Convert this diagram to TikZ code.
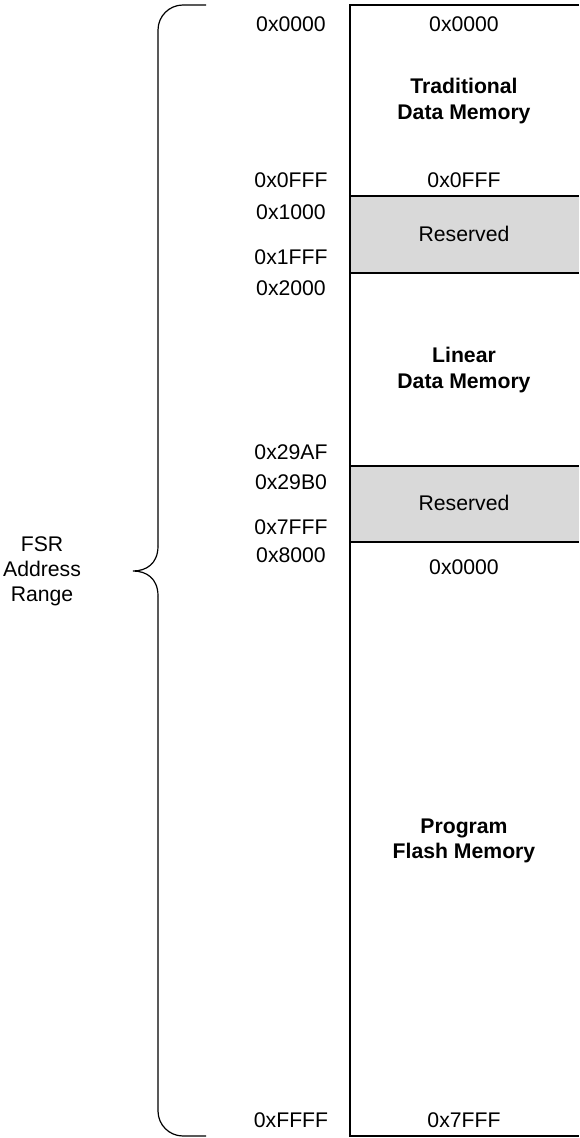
\documentclass[tikz,border=0pt]{standalone}
\usepackage{fontspec}
\setmainfont{Liberation Sans}
\definecolor{resgray}{RGB}{217,217,217}

\begin{document}
\begin{tikzpicture}[x=0.5pt, y=-0.5pt, line width=0.6pt,
  addr/.style={inner sep=0pt, font=\fontsize{10.6}{12.6}\selectfont},
  blk/.style={inner sep=0pt, align=center, font=\fontsize{10.6}{12.6}\selectfont\bfseries}]
\useasboundingbox (0,0) rectangle (579,1138);

\fill[resgray] (350,196) rectangle (579,273);
\fill[resgray] (350,466) rectangle (579,542);

\draw (579,5) -- (350,5) -- (350,1136) -- (579,1136);
\draw (350,196) -- (579,196);
\draw (350,273) -- (579,273);
\draw (350,466) -- (579,466);
\draw (350,542) -- (579,542);

\draw[rounded corners=12.5pt] (206,5) -| (158,546);
\draw (158,546) .. controls (158,564) and (146,571) .. (133,571)
                .. controls (146,571) and (158,578) .. (158,596);
\draw[rounded corners=12.5pt] (158,596) |- (206,1136);

\node[addr] (l0000) at (291,24) {0x0000};
\node[addr] (l0FFF) at (291,180) {0x0FFF};
\node[addr] (l1000) at (291,212) {0x1000};
\node[addr] (l1FFF) at (291,257) {0x1FFF};
\node[addr] (l2000) at (291,288) {0x2000};
\node[addr] (l29AF) at (291,452) {0x29AF};
\node[addr] (l29B0) at (291,482) {0x29B0};
\node[addr] (l7FFF) at (291,527) {0x7FFF};
\node[addr] (l8000) at (291,555) {0x8000};
\node[addr] (lFFFF) at (291,1120) {0xFFFF};

\node[addr] (r0000) at (464,24) {0x0000};
\node[blk] (tdm) at (464,101) {Traditional\\Data Memory};
\node[addr] (r0FFF) at (464,180) {0x0FFF};
\node[addr] (res1) at (464,234) {Reserved};
\node[blk] (ldm) at (464,370) {Linear\\Data Memory};
\node[addr] (res2) at (464,503) {Reserved};
\node[addr] (p0000) at (464,567) {0x0000};
\node[blk] (pfm) at (464,841) {Program\\Flash Memory};
\node[addr] (p7FFF) at (464,1120) {0x7FFF};

\node[addr, align=center] (fsr) at (42,571) {FSR\\Address\\Range};
\end{tikzpicture}
\end{document}
